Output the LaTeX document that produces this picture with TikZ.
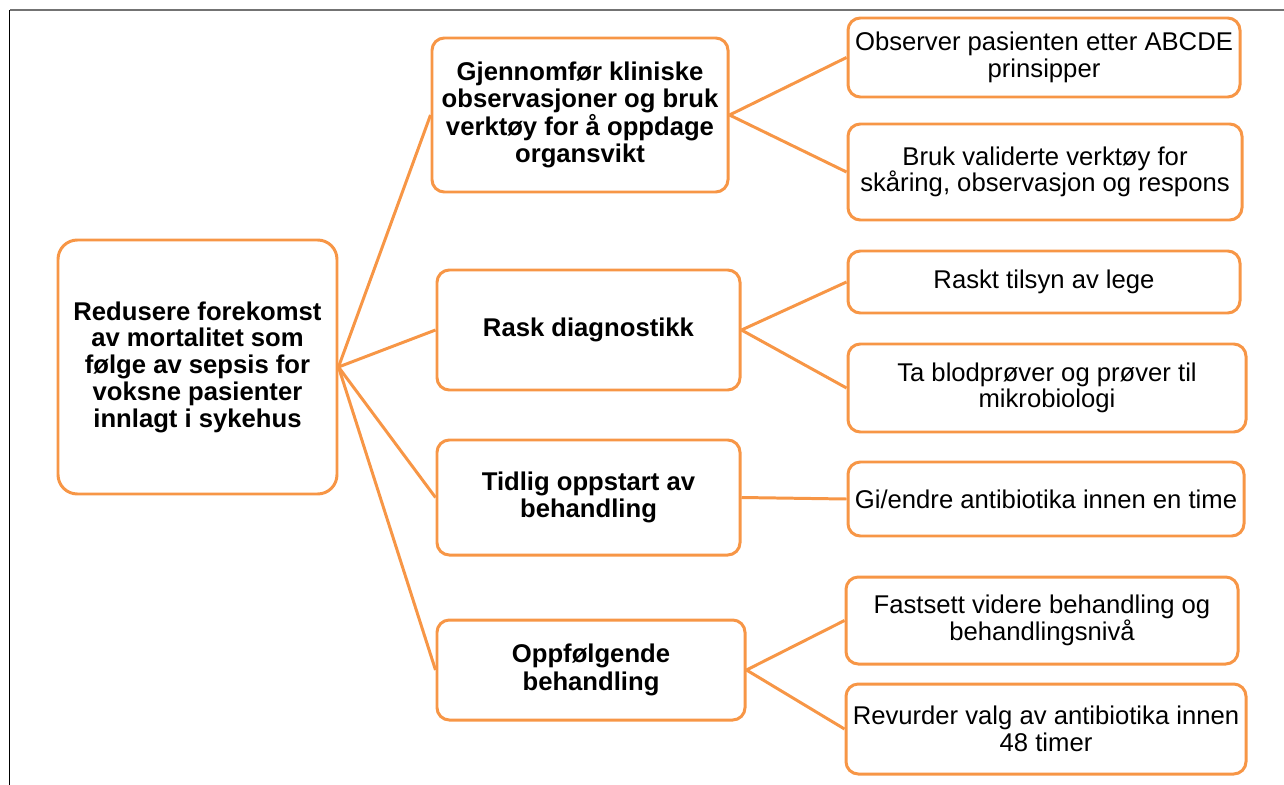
\documentclass[tikz,border=0pt]{standalone}
\usepackage{fontspec}
\setmainfont{Liberation Sans}
\usetikzlibrary{positioning}

\definecolor{oransje}{HTML}{F79646}

\begin{document}
\begin{tikzpicture}[
    kant/.style={line width=1.7pt, draw=oransje},
    every node/.style={align=center, inner sep=0pt, font=\fontsize{14.6}{15.2}\selectfont},
    boks/.style={rectangle, rounded corners=7pt, draw=oransje, line width=1.7pt,
        fill=white},
    maal/.style={boks, rounded corners=11pt, font=\fontsize{14.6}{15.2}\selectfont\bfseries},
    tiltak/.style={boks, font=\fontsize{14.6}{15.6}\selectfont\bfseries},
    handling/.style={boks}
    ]

\useasboundingbox (0,0) rectangle (25.68,-15.7);
% frame
\draw[black, line width=0.6pt] (0.19,-15.7) -- (0.19,-0.2);
\draw[black!55, line width=0.8pt] (0.19,-0.2) -- (25.68,-0.2);

% goal
\node[maal, minimum width=5.58cm, minimum height=5.08cm] (rot) at (3.95,-7.34)
    {Redusere forekomst\\av mortalitet som\\følge av sepsis for\\voksne pasienter\\innlagt i sykehus};

% measures, lv1
\node[tiltak, minimum width=5.92cm, minimum height=3.08cm] (klinisk) at (11.6,-2.3)
    {Gjennomfør kliniske\\observasjoner og bruk\\verktøy for å oppdage\\organsvikt};
\node[tiltak, minimum width=6.06cm, minimum height=2.4cm] (diagnostikk) at (11.77,-6.6)
    {Rask diagnostikk};
\node[tiltak, minimum width=6.06cm, minimum height=2.3cm] (oppstart) at (11.77,-9.95)
    {Tidlig oppstart av\\behandling};
\node[tiltak, minimum width=6.16cm, minimum height=2.0cm] (oppfolging) at (11.82,-13.4)
    {Oppfølgende\\behandling};

% actions, lv2
\node[handling, minimum width=7.84cm, minimum height=1.58cm] (abcde) at (20.88,-1.15)
    {Observer pasienten etter ABCDE\\prinsipper};
\node[handling, minimum width=7.88cm, minimum height=1.92cm] (verktoy) at (20.9,-3.44)
    {Bruk validerte verktøy for\\skåring, observasjon og respons};
\node[handling, minimum width=7.84cm, minimum height=1.24cm] (tilsyn) at (20.88,-5.64)
    {Raskt tilsyn av lege};
\node[handling, minimum width=7.96cm, minimum height=1.76cm] (prover) at (20.94,-7.76)
    {Ta blodprøver og prøver til\\mikrobiologi};
\node[handling, minimum width=7.92cm, minimum height=1.48cm] (antibiotika) at (20.92,-9.98)
    {Gi/endre antibiotika innen en time};
\node[handling, minimum width=7.84cm, minimum height=1.74cm] (videre) at (20.84,-12.41)
    {Fastsett videre behandling og\\behandlingsnivå};
\node[handling, minimum width=8.0cm, minimum height=1.8cm] (revurder) at (20.92,-14.58)
    {Revurder valg av antibiotika innen\\48 timer};

% connectors
\draw[kant] (rot.east) -- (klinisk.west);
\draw[kant] (rot.east) -- (diagnostikk.west);
\draw[kant] (rot.east) -- (oppstart.west);
\draw[kant] (rot.east) -- (oppfolging.west);
\draw[kant] (klinisk.east) -- (abcde.west);
\draw[kant] (klinisk.east) -- (verktoy.west);
\draw[kant] (diagnostikk.east) -- (tilsyn.west);
\draw[kant] (diagnostikk.east) -- (prover.west);
\draw[kant] (oppstart.east) -- (antibiotika.west);
\draw[kant] (oppfolging.east) -- (videre.west);
\draw[kant] (oppfolging.east) -- (revurder.west);
\end{tikzpicture}
\end{document}
